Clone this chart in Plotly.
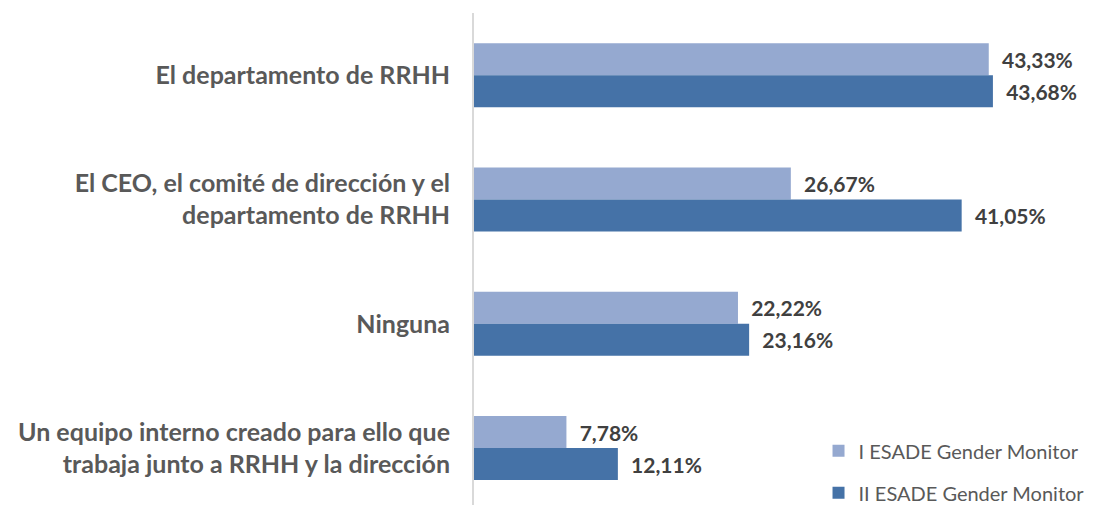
import plotly.graph_objects as go

categories = [
    "El departamento de RRHH",
    "El CEO, el comité de dirección y el<br>departamento de RRHH",
    "Ninguna",
    "Un equipo interno creado para ello que<br>trabaja junto a RRHH y la dirección",
]
series_names = ["I ESADE Gender Monitor", "II ESADE Gender Monitor"]
values_i = [43.33, 26.67, 22.22, 7.78]
values_ii = [43.68, 41.05, 23.16, 12.11]
colors = ["#95A9D0", "#4572A7"]

def fmt(v):
    return "  " + f"{v:.2f}".replace(".", ",") + "%"

fig = go.Figure()
for name, vals, col in zip(series_names, [values_i, values_ii], colors):
    fig.add_trace(go.Bar(
        y=categories, x=vals, orientation="h", name=name,
        marker=dict(color=col, line=dict(width=0)),
        text=[fmt(v) for v in vals], textposition="outside",
        textfont=dict(family="Lato", size=21, color="#404040", weight="bold"),
        cliponaxis=False, legendgroup=name,
    ))

fig.update_layout(
    width=1093, height=497,
    margin=dict(l=466, r=33, t=5, b=0, autoexpand=False),
    paper_bgcolor="white", plot_bgcolor="white",
    barmode="group", bargap=0.485, bargroupgap=0,
    font=dict(family="Lato", color="#595959"),
    showlegend=True,
    legend=dict(x=0.58, y=0.15, xanchor="left", yanchor="top",
                font=dict(family="Lato", size=20, color="#595959"),
                traceorder="grouped", tracegroupgap=13,
                bgcolor="rgba(0,0,0,0)"),
)
fig.update_xaxes(range=[0, 50], visible=False, showgrid=False, automargin=False)
fig.update_yaxes(range=[3.458, -0.5], showgrid=False, showline=True,
                 linecolor="#D9D9D9", linewidth=2, ticks="", ticklen=0,
                 tickfont=dict(family="Lato", size=25, color="#595959", weight="bold"),
                 ticklabelstandoff=17, automargin=False)
fig.write_html("out.html")
